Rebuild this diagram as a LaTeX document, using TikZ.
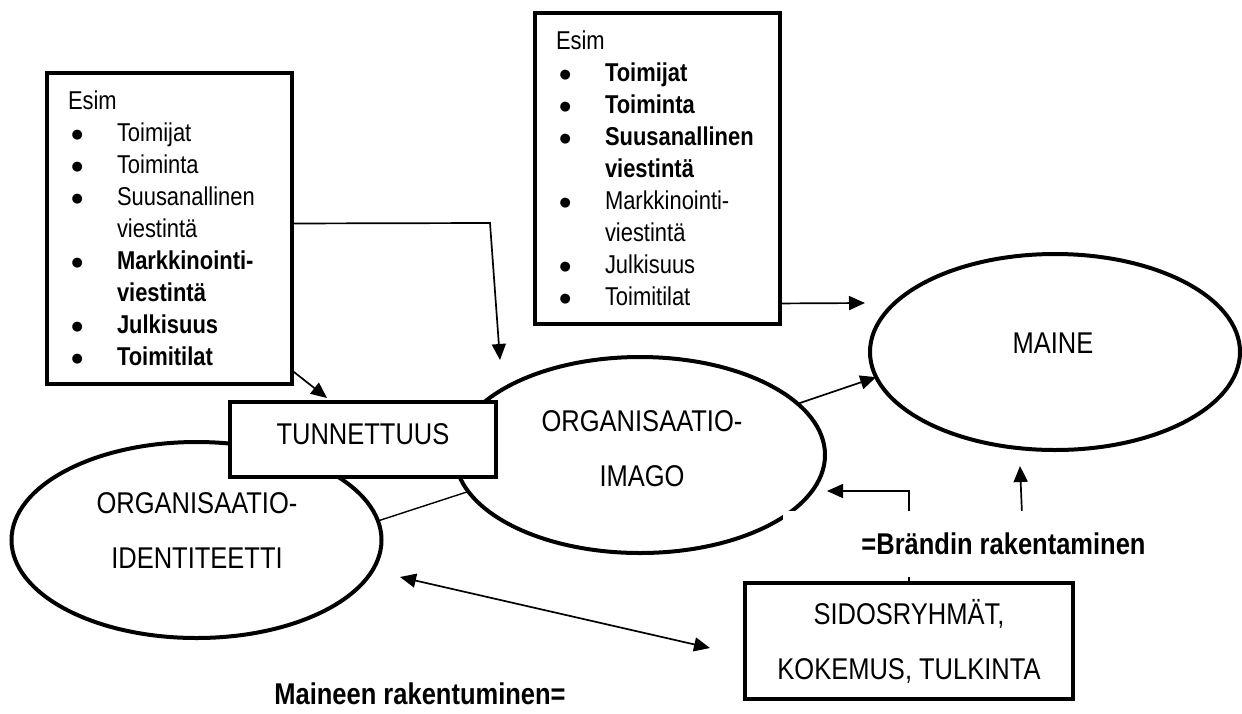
\documentclass[tikz,border=0pt]{standalone}
\usepackage{fontspec}
\setmainfont[FakeStretch=0.85]{Liberation Sans}
\newfontfamily\BltFont{DejaVu Sans}
\usetikzlibrary{shapes.geometric,arrows.meta}
\newcommand\ListTxt{\fontsize{25.8pt}{32pt}\selectfont}
\newcommand\BigTxt{\fontsize{30pt}{55pt}\selectfont}
\newcommand\Blt{\makebox[49pt][l]{\hspace{3.5pt}\raisebox{3.6pt}{\BltFont\fontsize{13pt}{13pt}\selectfont ●}}}
\newcommand\Ind{\hspace*{49pt}}
\begin{document}
\begin{tikzpicture}[x=1pt,y=-1pt,
  shp/.style={draw, line width=4pt, fill=white, inner sep=0pt, outer sep=0pt},
  ell/.style={shp, ellipse, minimum width=370pt, minimum height=196pt},
  listbox/.style={shp, anchor=north west, text width=203pt, align=left,
                  inner xsep=21pt, inner ysep=18pt, font=\ListTxt},
  lbl/.style={inner sep=0pt, font=\BigTxt, align=center},
  arr/.style={line width=1.7pt, -{Triangle[length=16pt,width=14pt]}},
  dbl/.style={line width=1.7pt, {Triangle[length=16pt,width=14pt]}-{Triangle[length=16pt,width=14pt]}},
  ln/.style={line width=1.4pt}]
\fill[white] (0,0) rectangle (1242,713);
\useasboundingbox (0,0) rectangle (1242,713);

% ellipses
\node[ell] (ident) at (196.5,540) {};
\node[ell] (imago) at (640,455) {};
\node[ell] (maine) at (1055,352) {};
\node[lbl] (identT) at (197,530.5) {ORGANISAATIO-\\IDENTITEETTI};
\node[lbl] (imagoT) at (642,448.5) {ORGANISAATIO-\\IMAGO};
\node[lbl] (maineT) at (1053,343) {MAINE};

% boxes
\node[listbox] (lbox) at (47,73) {Esim\\
 \Blt Toimijat\\
 \Blt Toiminta\\
 \Blt Suusanallinen\\
 \Ind viestintä\\
 \Blt \textbf{Markkinointi-}\\
 \Ind \textbf{viestintä}\\
 \Blt \textbf{Julkisuus}\\
 \Blt \textbf{Toimitilat}};
\node[listbox] (rbox) at (535,13) {Esim\\
 \Blt \textbf{Toimijat}\\
 \Blt \textbf{Toiminta}\\
 \Blt \textbf{Suusanallinen}\\
 \Ind \textbf{viestintä}\\
 \Blt Markkinointi-\\
 \Ind viestintä\\
 \Blt Julkisuus\\
 \Blt Toimitilat};
\node[shp, minimum width=266pt, minimum height=75pt, font=\BigTxt,
      text height=21.5pt, text depth=12.5pt] (tun) at (363,439.5) {TUNNETTUUS};
\node[shp, minimum width=328pt, minimum height=116pt, font=\BigTxt, align=center]
      (sidos) at (909,641) {SIDOSRYHMÄT,\\KOKEMUS, TULKINTA};

% free ends
\coordinate (tunIn) at (327,398);
\coordinate (elb) at (490,223);
\coordinate (imgTop) at (500,360);
\coordinate (maineIn) at (865,303);
\coordinate (imgR) at (827,491);
\coordinate (upTail) at (1022,514);
\coordinate (maineUp) at (1020,466);
\coordinate (dA) at (400,577);
\coordinate (dB) at (710,648);

% connectors
\draw[arr] ([yshift=13.5pt]lbox.south east) -- (tunIn);
\draw[arr] ([yshift=5pt]lbox.east) -- (elb) -- (imgTop);
\draw[arr] ([yshift=20.5pt]rbox.south east) -- (maineIn);
\draw[arr] (imago.18.5) -- (maine.188);
\draw[ln] (ident.6.8) -- (imago.192.4);
\draw[arr] (sidos.north) |- (imgR);
\draw[arr] (upTail) -- (maineUp);
\draw[dbl] (dA) -- (dB);

% labels
\node[fill=white, inner sep=0pt, minimum width=441pt, minimum height=66pt,
      font=\BigTxt\bfseries, text height=21.5pt, text depth=0pt]
      (brand) at (1003.5,544) {=Brändin rakentaminen};
\node[inner sep=0pt, font=\BigTxt\bfseries, text height=21.5pt, text depth=0pt]
      (maineen) at (420,694) {Maineen rakentuminen=};
\end{tikzpicture}
\end{document}
